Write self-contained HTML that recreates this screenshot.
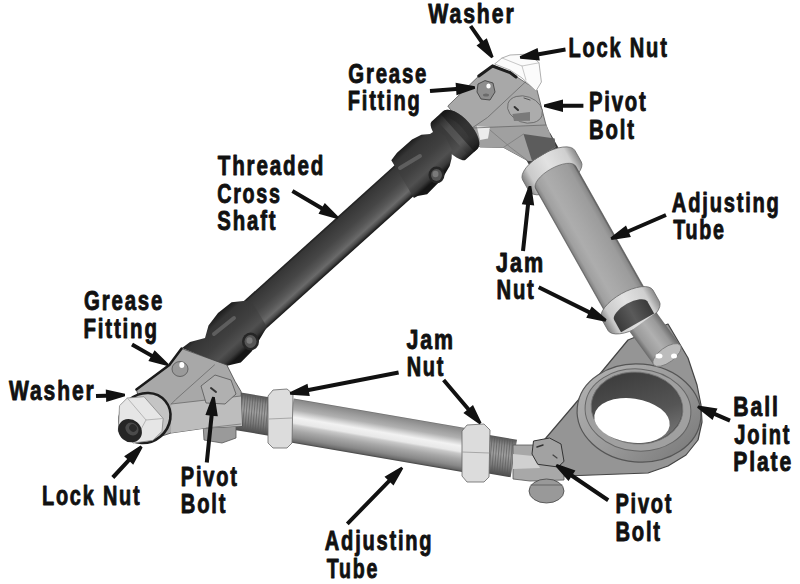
<!DOCTYPE html>
<html><head><meta charset="utf-8"><style>
html,body{margin:0;padding:0;background:#fff;}
svg{display:block;}
text{font-family:"Liberation Sans",sans-serif;font-weight:bold;font-size:27.0px;fill:#111;stroke:#111;stroke-width:0.9px;stroke-linejoin:round;}
.ar{fill:#111;}
</style></head><body>
<svg width="800" height="584" viewBox="0 0 800 584">
<defs><linearGradient id="g1" gradientUnits="userSpaceOnUse" x1="590.0" y1="370.0" x2="690.0" y2="460.0"><stop offset="0" stop-color="#b0b0b0"/><stop offset="0.5" stop-color="#9a9a9a"/><stop offset="1" stop-color="#7a7a7a"/></linearGradient><linearGradient id="g2" gradientUnits="userSpaceOnUse" x1="620.0" y1="375.0" x2="650.0" y2="445.0"><stop offset="0" stop-color="#3e3e3e"/><stop offset="0.6" stop-color="#555"/><stop offset="1" stop-color="#777"/></linearGradient><linearGradient id="g3" gradientUnits="userSpaceOnUse" x1="550.3" y1="133.3" x2="520.7" y2="150.0"><stop offset="0" stop-color="#333"/><stop offset="0.5" stop-color="#5e5e5e"/><stop offset="1" stop-color="#3a3a3a"/></linearGradient><linearGradient id="g4" gradientUnits="userSpaceOnUse" x1="574.9" y1="150.5" x2="522.6" y2="179.9"><stop offset="0" stop-color="#8a8a8a"/><stop offset="0.15" stop-color="#cfcfcf"/><stop offset="0.5" stop-color="#e2e2e2"/><stop offset="0.85" stop-color="#cacaca"/><stop offset="1" stop-color="#808080"/></linearGradient><linearGradient id="g5" gradientUnits="userSpaceOnUse" x1="575.7" y1="166.1" x2="535.6" y2="188.7"><stop offset="0" stop-color="#555"/><stop offset="0.05" stop-color="#8a8a8a"/><stop offset="0.15" stop-color="#9c9c9c"/><stop offset="0.5" stop-color="#a8a8a8"/><stop offset="0.7" stop-color="#adadad"/><stop offset="0.9" stop-color="#a0a0a0"/><stop offset="0.97" stop-color="#888"/><stop offset="1" stop-color="#666"/></linearGradient><linearGradient id="g6" gradientUnits="userSpaceOnUse" x1="653.0" y1="290.1" x2="601.6" y2="319.1"><stop offset="0" stop-color="#8a8a8a"/><stop offset="0.15" stop-color="#cfcfcf"/><stop offset="0.5" stop-color="#e2e2e2"/><stop offset="0.85" stop-color="#cacaca"/><stop offset="1" stop-color="#808080"/></linearGradient><linearGradient id="g7" gradientUnits="userSpaceOnUse" x1="647.3" y1="301.4" x2="614.2" y2="320.0"><stop offset="0" stop-color="#3a3a3a"/><stop offset="0.5" stop-color="#5a5a5a"/><stop offset="1" stop-color="#3a3a3a"/></linearGradient><linearGradient id="g8" gradientUnits="userSpaceOnUse" x1="656.3" y1="312.3" x2="629.7" y2="331.7"><stop offset="0" stop-color="#6a6a6a"/><stop offset="0.2" stop-color="#9a9a9a"/><stop offset="0.5" stop-color="#b0b0b0"/><stop offset="0.85" stop-color="#9a9a9a"/><stop offset="1" stop-color="#6a6a6a"/></linearGradient><linearGradient id="g9" gradientUnits="userSpaceOnUse" x1="241.0" y1="392.5" x2="234.6" y2="429.9"><stop offset="0" stop-color="#555"/><stop offset="0.2" stop-color="#8a8a8a"/><stop offset="0.45" stop-color="#a0a0a0"/><stop offset="0.75" stop-color="#7a7a7a"/><stop offset="1" stop-color="#4a4a4a"/></linearGradient><linearGradient id="g10" gradientUnits="userSpaceOnUse" x1="477.5" y1="433.0" x2="471.1" y2="470.5"><stop offset="0" stop-color="#555"/><stop offset="0.2" stop-color="#8a8a8a"/><stop offset="0.45" stop-color="#a0a0a0"/><stop offset="0.75" stop-color="#7a7a7a"/><stop offset="1" stop-color="#4a4a4a"/></linearGradient><linearGradient id="g11" gradientUnits="userSpaceOnUse" x1="293.7" y1="398.5" x2="286.3" y2="441.8"><stop offset="0" stop-color="#6a6a6a"/><stop offset="0.03" stop-color="#8a8a8a"/><stop offset="0.12" stop-color="#9a9a9a"/><stop offset="0.25" stop-color="#b0b0b0"/><stop offset="0.33" stop-color="#d0d0d0"/><stop offset="0.42" stop-color="#f2f2f2"/><stop offset="0.55" stop-color="#e8e8e8"/><stop offset="0.6" stop-color="#c8c8c8"/><stop offset="0.72" stop-color="#a8a8a8"/><stop offset="0.88" stop-color="#888"/><stop offset="0.96" stop-color="#6a6a6a"/><stop offset="1" stop-color="#444"/></linearGradient><linearGradient id="g12" gradientUnits="userSpaceOnUse" x1="233.7" y1="310.2" x2="257.5" y2="336.6"><stop offset="0" stop-color="#1a1a1a"/><stop offset="0.07" stop-color="#363636"/><stop offset="0.45" stop-color="#464646"/><stop offset="0.65" stop-color="#575757"/><stop offset="0.8" stop-color="#6a6a6a"/><stop offset="0.9" stop-color="#4a4a4a"/><stop offset="1" stop-color="#151515"/></linearGradient><linearGradient id="g13" gradientUnits="userSpaceOnUse" x1="187.3" y1="340.9" x2="218.1" y2="375.1"><stop offset="0" stop-color="#1a1a1a"/><stop offset="0.15" stop-color="#353535"/><stop offset="0.5" stop-color="#404040"/><stop offset="0.75" stop-color="#505050"/><stop offset="0.9" stop-color="#3a3a3a"/><stop offset="1" stop-color="#151515"/></linearGradient><linearGradient id="g14" gradientUnits="userSpaceOnUse" x1="431.4" y1="121.8" x2="465.5" y2="159.7"><stop offset="0" stop-color="#1a1a1a"/><stop offset="0.15" stop-color="#353535"/><stop offset="0.5" stop-color="#404040"/><stop offset="0.75" stop-color="#505050"/><stop offset="0.9" stop-color="#3a3a3a"/><stop offset="1" stop-color="#151515"/></linearGradient><linearGradient id="g15" gradientUnits="userSpaceOnUse" x1="187.3" y1="340.9" x2="218.1" y2="375.1"><stop offset="0" stop-color="#1a1a1a"/><stop offset="0.15" stop-color="#353535"/><stop offset="0.5" stop-color="#404040"/><stop offset="0.75" stop-color="#505050"/><stop offset="0.9" stop-color="#3a3a3a"/><stop offset="1" stop-color="#151515"/></linearGradient><linearGradient id="g16" gradientUnits="userSpaceOnUse" x1="436.1" y1="119.5" x2="468.2" y2="155.2"><stop offset="0" stop-color="#222"/><stop offset="0.3" stop-color="#555"/><stop offset="0.7" stop-color="#606060"/><stop offset="1" stop-color="#222"/></linearGradient><linearGradient id="g17" gradientUnits="userSpaceOnUse" x1="440.3" y1="113.7" x2="474.4" y2="151.6"><stop offset="0" stop-color="#111"/><stop offset="0.5" stop-color="#2a2a2a"/><stop offset="1" stop-color="#111"/></linearGradient></defs>
<rect width="800" height="584" fill="#fff"/>
<polygon points="628.0,340.0 668.0,324.0 688.0,358.0 697.0,385.0 701.0,405.0 702.0,422.0 698.0,440.0 686.0,455.0 668.0,466.0 648.0,473.0 565.0,476.0 545.0,470.0 534.0,452.0 580.0,398.0" fill="#959595" stroke="#444" stroke-width="1.2" stroke-linejoin="round" />
<ellipse cx="639" cy="413" rx="62" ry="49" transform="rotate(5 639 413)" fill="url(#g1)" stroke="#555" stroke-width="1.2"/>
<ellipse cx="638" cy="410" rx="53" ry="41" transform="rotate(5 638 410)" fill="#a0a0a0" stroke="#666" stroke-width="1"/>
<ellipse cx="637" cy="408" rx="46" ry="36" transform="rotate(5 637 408)" fill="#4c4c4c" stroke="#777" stroke-width="0.8"/>
<ellipse cx="637" cy="408" rx="45" ry="35" transform="rotate(5 637 408)" fill="url(#g2)" stroke="none" stroke-width="0.8"/>
<ellipse cx="632" cy="420.5" rx="38" ry="22" transform="rotate(8 632 420.5)" fill="#fff" stroke="none" stroke-width="0.8"/>
<path d="M550.33,133.31 L566.03,161.20 L536.41,177.88 L520.71,150.00 Z" fill="url(#g3)" />
<path d="M574.91,150.46 L581.29,161.79 A12.60,30.00 60.61 0 1 529.01,191.23 L522.63,179.90 A12.60,30.00 60.61 0 1 574.91,150.46 Z" fill="url(#g4)" stroke="#666" stroke-width="0.8"/>
<path d="M575.68,166.09 L647.82,294.18 A9.66,23.00 60.61 0 1 607.74,316.75 L535.60,188.67 A9.66,23.00 60.61 0 1 575.68,166.09 Z" fill="url(#g5)" stroke="#555" stroke-width="0.6"/>
<path d="M652.99,290.11 L659.37,301.44 A12.39,29.50 60.61 0 1 607.96,330.39 L601.58,319.07 A12.39,29.50 60.61 0 1 652.99,290.11 Z" fill="url(#g6)" stroke="#666" stroke-width="0.8"/>
<path d="M647.28,301.37 L654.15,313.56 L621.04,332.21 L614.17,320.01 A7.98,19.00 60.61 0 1 647.28,301.37 Z" fill="url(#g7)" />
<path d="M656.34,312.30 L680.34,345.30 A7.42,16.50 53.97 0 1 653.66,364.70 L629.66,331.70 Z" fill="url(#g8)" />
<ellipse cx="667" cy="355" rx="16.5" ry="7.5" transform="rotate(-36 667 355)" fill="#bcbcbc" stroke="#777" stroke-width="0.8"/>
<ellipse cx="659" cy="356" rx="3.5" ry="2.5" transform="rotate(0 659 356)" fill="#fff" stroke="none" stroke-width="0.8"/>
<ellipse cx="674" cy="356" rx="3" ry="2.5" transform="rotate(0 674 356)" fill="#fff" stroke="none" stroke-width="0.8"/>
<polygon points="241.0,392.5 285.4,400.1 278.9,437.5 234.6,429.9" fill="url(#g9)" />
<path d="M242.7,394.3L239.8,429.3M245.3,394.8L242.3,429.7M247.8,395.2L244.9,430.2M250.4,395.6L247.5,430.6M253.0,396.1L250.0,431.0M255.5,396.5L252.6,431.5M258.1,397.0L255.1,431.9M260.7,397.4L257.7,432.4M263.2,397.8L260.3,432.8M265.8,398.3L262.8,433.2M268.3,398.7L265.4,433.7M270.9,399.1L268.0,434.1M273.5,399.6L270.5,434.6M276.0,400.0L273.1,435.0M278.6,400.5L275.6,435.4M281.2,400.9L278.2,435.9" stroke="#5a5a5a" stroke-width="0.9" opacity="0.7" fill="none"/>
<polygon points="477.5,433.0 517.0,439.8 510.6,477.3 471.1,470.5" fill="url(#g10)" />
<path d="M479.3,434.9L476.3,469.8M481.8,435.3L478.9,470.3M484.4,435.8L481.4,470.7M487.0,436.2L484.0,471.2M489.5,436.6L486.6,471.6M492.1,437.1L489.1,472.0M494.6,437.5L491.7,472.5M497.2,438.0L494.3,472.9M499.8,438.4L496.8,473.4M502.3,438.8L499.4,473.8M504.9,439.3L501.9,474.2M507.5,439.7L504.5,474.7M510.0,440.1L507.1,475.1M512.6,440.6L509.6,475.6" stroke="#5a5a5a" stroke-width="0.9" opacity="0.7" fill="none"/>
<polygon points="293.7,398.5 471.2,428.9 463.7,472.3 286.3,441.8" fill="url(#g11)" />
<polygon points="268.0,396.0 273.0,390.0 287.0,389.0 293.0,394.0 292.0,443.0 287.0,448.0 273.0,448.0 268.0,443.0" fill="#dcdcdc" stroke="#666" stroke-width="0.8" stroke-linejoin="round" />
<polyline points="269.0,419.0 292.0,418.0" fill="none" stroke="#999" stroke-width="0.8" stroke-linejoin="round" stroke-linecap="round"/>
<polygon points="462.0,431.0 467.0,425.0 484.0,424.0 490.0,430.0 489.0,477.0 484.0,482.0 467.0,482.0 462.0,476.0" fill="#dcdcdc" stroke="#666" stroke-width="0.8" stroke-linejoin="round" />
<polyline points="462.0,452.0 489.0,453.0" fill="none" stroke="#999" stroke-width="0.8" stroke-linejoin="round" stroke-linecap="round"/>
<polygon points="513.0,445.0 533.0,445.0 552.0,455.0 564.0,470.0 564.0,480.0 530.0,481.0 513.0,479.0" fill="#a8a8a8" stroke="#555" stroke-width="0.8" stroke-linejoin="round" />
<polygon points="513.0,454.0 533.0,456.0 540.0,468.0 513.0,469.0" fill="#d0d0d0" stroke="none" stroke-width="0.8" stroke-linejoin="round" />
<ellipse cx="546.5" cy="491" rx="17.5" ry="12" transform="rotate(0 546.5 491)" fill="#999" stroke="#444" stroke-width="0.8"/>
<polyline points="531.0,485.0 562.0,485.0" fill="none" stroke="#666" stroke-width="1.2" stroke-linejoin="round" stroke-linecap="round"/>
<polygon points="533.5,441.0 549.5,438.0 561.0,444.0 564.0,461.4 558.0,467.0 537.8,464.3 532.0,454.0" fill="#a2a2a2" stroke="#333" stroke-width="1" stroke-linejoin="round" />
<polyline points="537.0,447.0 543.0,445.0" fill="none" stroke="#333" stroke-width="1.5" stroke-linejoin="round" stroke-linecap="round"/>
<polyline points="553.0,455.0 557.0,458.0" fill="none" stroke="#444" stroke-width="1.2" stroke-linejoin="round" stroke-linecap="round"/>
<polygon points="478.8,76.0 492.5,65.0 510.0,72.5 537.0,90.0 546.0,125.0 555.5,147.0 532.0,161.0 528.0,160.8 503.5,147.4 480.0,147.0 470.0,136.0 447.8,106.0" fill="#a8a8a8" stroke="#555" stroke-width="0.8" stroke-linejoin="round" />
<polygon points="470.0,128.0 546.0,125.0 555.5,147.0 532.0,161.0 528.0,160.8 503.5,147.4 480.0,147.0" fill="#a0a0a0" stroke="none" stroke-width="0.8" stroke-linejoin="round" />
<polygon points="476.8,126.3 490.0,127.0 488.0,138.5 480.0,140.0" fill="#ececec" stroke="none" stroke-width="0.8" stroke-linejoin="round" />
<polygon points="523.5,134.0 554.7,138.5 555.5,147.0 532.0,161.0" fill="#5c5c5c" stroke="none" stroke-width="0.8" stroke-linejoin="round" />
<polyline points="527.5,80.0 487.5,117.5 472.0,128.0" fill="none" stroke="#6a6a6a" stroke-width="0.8" stroke-linejoin="round" stroke-linecap="round"/>
<polyline points="472.0,128.0 546.0,125.0" fill="none" stroke="#6a6a6a" stroke-width="0.8" stroke-linejoin="round" stroke-linecap="round"/>
<polyline points="490.0,130.0 510.0,147.0 528.0,160.8" fill="none" stroke="#777" stroke-width="0.7" stroke-linejoin="round" stroke-linecap="round"/>
<polyline points="503.5,147.4 523.5,134.0" fill="none" stroke="#777" stroke-width="0.7" stroke-linejoin="round" stroke-linecap="round"/>
<polyline points="478.8,76.0 492.5,66.0 510.0,72.5 516.0,77.0" fill="none" stroke="#1e1e1e" stroke-width="3" stroke-linejoin="round" stroke-linecap="round"/>
<polygon points="494.6,64.0 502.0,58.0 510.0,55.0 530.0,54.0 539.0,62.8 541.4,82.0 536.0,91.0 522.0,78.0 510.0,70.0" fill="#fbfbfb" stroke="#9a9a9a" stroke-width="0.8" stroke-linejoin="round" />
<polyline points="502.0,58.0 522.0,66.0 539.0,62.8" fill="none" stroke="#b0b0b0" stroke-width="0.7" stroke-linejoin="round" stroke-linecap="round"/>
<polyline points="522.0,66.0 526.0,80.0" fill="none" stroke="#b0b0b0" stroke-width="0.7" stroke-linejoin="round" stroke-linecap="round"/>
<polygon points="478.0,84.0 485.0,80.6 493.0,83.0 495.0,92.0 490.0,100.0 481.0,99.0 477.0,92.0" fill="#8e8e8e" stroke="#444" stroke-width="0.9" stroke-linejoin="round" />
<ellipse cx="488.5" cy="86" rx="2.2" ry="2.6" transform="rotate(0 488.5 86)" fill="#fff" stroke="none" stroke-width="0.8"/>
<ellipse cx="486" cy="95" rx="3" ry="1.5" transform="rotate(0 486 95)" fill="#6a6a6a" stroke="none" stroke-width="0.8"/>
<ellipse cx="525" cy="109.5" rx="18" ry="13" transform="rotate(20 525 109.5)" fill="#acacac" stroke="#666" stroke-width="0.8"/>
<polygon points="512.4,114.0 530.0,112.0 530.0,120.7 514.0,121.0" fill="#7a7a7a" stroke="none" stroke-width="0.8" stroke-linejoin="round" />
<polyline points="514.6,107.0 518.0,110.0" fill="none" stroke="#333" stroke-width="2" stroke-linejoin="round" stroke-linecap="round"/>
<polyline points="524.0,98.0 530.0,100.0" fill="none" stroke="#555" stroke-width="1" stroke-linejoin="round" stroke-linecap="round"/>
<polygon points="233.7,310.2 404.6,156.3 428.4,182.7 257.5,336.6" fill="url(#g12)" />
<polygon points="182.0,348.0 190.0,342.0 205.0,338.0 208.5,325.4 218.0,313.0 231.6,302.3 245.5,300.8 252.0,302.0 267.0,327.0 258.0,342.0 251.6,351.6 240.8,362.4 226.0,366.0" fill="url(#g13)" stroke="none" stroke-width="0.8" stroke-linejoin="round" />
<polyline points="214.0,334.0 234.0,318.0" fill="none" stroke="#5e5e5e" stroke-width="4" stroke-linejoin="round" stroke-linecap="round"/>
<ellipse cx="250.5" cy="341.5" rx="8.5" ry="9" transform="rotate(0 250.5 341.5)" fill="#262626" stroke="none" stroke-width="0.8"/>
<ellipse cx="250.5" cy="341.5" rx="6" ry="6.5" transform="rotate(0 250.5 341.5)" fill="#555" stroke="none" stroke-width="0.8"/>
<ellipse cx="249.5" cy="340.5" rx="3" ry="3.2" transform="rotate(0 249.5 340.5)" fill="#7a7a7a" stroke="none" stroke-width="0.8"/>
<path d="M431.39,121.78 L443.28,111.07 A11.47,25.50 -42.00 0 1 477.40,148.97 L465.51,159.68 A7.65,25.50 -42.00 0 1 431.39,121.78 Z" fill="url(#g14)" />
<polygon points="391.3,160.3 397.0,152.7 412.0,139.5 421.4,134.8 430.0,133.9 436.0,130.0 445.0,136.0 452.0,150.0 451.6,158.4 449.7,165.9 442.1,179.1 427.1,194.2 417.7,196.0 413.9,197.9" fill="url(#g15)" stroke="none" stroke-width="0.8" stroke-linejoin="round" />
<polyline points="400.0,168.0 420.0,156.0" fill="none" stroke="#5e5e5e" stroke-width="4" stroke-linejoin="round" stroke-linecap="round"/>
<path d="M436.11,119.54 L438.34,117.54 A10.80,24.00 -42.00 0 1 470.46,153.21 L468.23,155.22 Z" fill="url(#g16)" opacity="0.7"/>
<path d="M440.31,113.75 L443.28,111.07 A11.47,25.50 -42.00 0 1 477.40,148.97 L474.43,151.65 Z" fill="url(#g17)" opacity="0.6"/>
<ellipse cx="436.5" cy="175" rx="8" ry="8.5" transform="rotate(0 436.5 175)" fill="#262626" stroke="none" stroke-width="0.8"/>
<ellipse cx="436.5" cy="175" rx="5.5" ry="6" transform="rotate(0 436.5 175)" fill="#555" stroke="none" stroke-width="0.8"/>
<ellipse cx="435.5" cy="174" rx="3" ry="3.2" transform="rotate(0 435.5 174)" fill="#7a7a7a" stroke="none" stroke-width="0.8"/>
<polygon points="203.0,424.0 222.0,420.0 236.0,426.0 236.0,438.0 222.0,443.0 204.0,440.0" fill="#9a9a9a" stroke="#555" stroke-width="0.8" stroke-linejoin="round" />
<polygon points="136.4,389.5 169.3,364.9 181.6,348.5 226.8,364.9 235.0,381.3 241.1,391.6 242.0,426.0 206.0,428.0 171.0,433.0 150.0,440.0" fill="#a8a8a8" stroke="#444" stroke-width="0.8" stroke-linejoin="round" />
<polygon points="171.3,404.0 241.0,396.0 242.0,426.0 206.0,428.0 171.0,433.0" fill="#bdbdbd" stroke="none" stroke-width="0.8" stroke-linejoin="round" />
<polyline points="136.4,389.5 169.3,364.9 181.6,348.5" fill="none" stroke="#1a1a1a" stroke-width="2.5" stroke-linejoin="round" stroke-linecap="round"/>
<polyline points="214.5,364.9 175.4,399.8 171.3,404.0" fill="none" stroke="#6a6a6a" stroke-width="0.8" stroke-linejoin="round" stroke-linecap="round"/>
<polyline points="171.3,404.0 241.0,396.0" fill="none" stroke="#6a6a6a" stroke-width="0.8" stroke-linejoin="round" stroke-linecap="round"/>
<polyline points="206.0,428.0 241.0,424.0" fill="none" stroke="#777" stroke-width="0.8" stroke-linejoin="round" stroke-linecap="round"/>
<polygon points="201.0,386.0 215.0,375.0 231.0,380.0 236.0,394.0 225.0,404.0 206.0,403.0" fill="#b0b0b0" stroke="#555" stroke-width="0.8" stroke-linejoin="round" />
<polyline points="211.0,388.0 216.0,392.0" fill="none" stroke="#333" stroke-width="2" stroke-linejoin="round" stroke-linecap="round"/>
<ellipse cx="180" cy="369" rx="8" ry="7.5" transform="rotate(0 180 369)" fill="#9a9a9a" stroke="#555" stroke-width="0.8"/>
<ellipse cx="181.8" cy="365" rx="2.5" ry="3" transform="rotate(0 181.8 365)" fill="#fff" stroke="none" stroke-width="0.8"/>
<ellipse cx="145" cy="418" rx="26.5" ry="24" transform="rotate(-40 145 418)" fill="#c4c4c4" stroke="#1e1e1e" stroke-width="2.6"/>
<polygon points="119.5,405.7 127.3,398.0 144.0,396.7 163.2,418.5 162.0,431.3 153.0,440.3 133.7,443.0 118.3,431.3" fill="#e6e6e6" stroke="#888" stroke-width="0.8" stroke-linejoin="round" />
<polyline points="127.3,398.0 146.0,420.0 163.2,418.5" fill="none" stroke="#aaa" stroke-width="0.8" stroke-linejoin="round" stroke-linecap="round"/>
<polyline points="146.0,420.0 133.7,443.0" fill="none" stroke="#aaa" stroke-width="0.8" stroke-linejoin="round" stroke-linecap="round"/>
<ellipse cx="130" cy="430.7" rx="12.5" ry="11" transform="rotate(40 130 430.7)" fill="#252525" stroke="none" stroke-width="0.8"/>
<ellipse cx="132" cy="429" rx="7" ry="6" transform="rotate(40 132 429)" fill="#4a4a4a" stroke="none" stroke-width="0.8"/>
<ellipse cx="133" cy="428" rx="4" ry="3.5" transform="rotate(40 133 428)" fill="#2a2a2a" stroke="none" stroke-width="0.8"/>
<polygon class="ar" points="469.0,27.1 480.0,43.0 476.5,45.5 491.4,58.2 493.6,56.8 486.8,38.3 483.3,40.8 472.2,24.9"/>
<polygon class="ar" points="565.2,47.5 538.4,52.2 537.6,48.1 519.8,56.2 520.2,58.8 539.8,60.4 539.1,56.2 565.8,51.5"/>
<polygon class="ar" points="430.2,93.0 456.2,91.0 456.5,95.2 475.1,88.8 474.9,86.2 455.6,82.7 455.9,87.0 429.8,89.0"/>
<polygon class="ar" points="583.4,103.7 563.0,103.7 563.0,99.5 544.0,104.4 544.0,107.0 563.0,112.0 563.0,107.7 583.4,107.7"/>
<polygon class="ar" points="291.4,192.7 320.6,210.0 318.5,213.7 337.3,219.1 338.7,216.9 324.8,202.9 322.7,206.6 293.4,189.3"/>
<polygon class="ar" points="665.2,213.2 627.7,229.4 626.0,225.5 610.5,237.6 611.5,239.9 630.9,237.0 629.2,233.1 666.8,216.8"/>
<polygon class="ar" points="525.0,251.2 530.0,205.1 534.2,205.6 531.3,186.1 528.7,185.9 521.8,204.2 526.0,204.7 521.0,250.8"/>
<polygon class="ar" points="537.8,289.1 588.1,313.9 586.2,317.7 605.4,321.7 606.6,319.3 591.7,306.5 589.8,310.3 539.6,285.5"/>
<polygon class="ar" points="131.0,346.2 150.5,357.3 148.4,361.0 167.4,366.1 168.6,363.9 154.6,350.2 152.5,353.9 133.0,342.8"/>
<polygon class="ar" points="96.1,398.0 106.1,397.7 106.2,401.9 125.0,396.3 125.0,393.7 105.8,389.4 105.9,393.7 95.9,394.0"/>
<polygon class="ar" points="114.3,478.9 130.1,461.8 133.2,464.7 142.6,447.4 140.6,445.6 124.1,456.2 127.2,459.1 111.3,476.1"/>
<polygon class="ar" points="208.8,462.7 213.6,415.9 217.8,416.3 214.8,396.9 212.2,396.7 205.4,415.1 209.6,415.5 204.8,462.3"/>
<polygon class="ar" points="398.2,370.5 308.3,387.9 307.5,383.8 289.8,392.2 290.2,394.8 309.8,396.0 309.0,391.9 399.0,374.5"/>
<polygon class="ar" points="442.1,381.3 466.7,410.3 463.4,413.1 479.5,424.3 481.5,422.7 473.0,405.0 469.7,407.7 445.1,378.7"/>
<polygon class="ar" points="348.7,525.2 390.4,482.6 393.5,485.6 403.2,468.5 401.4,466.7 384.5,476.8 387.6,479.8 345.9,522.4"/>
<polygon class="ar" points="730.8,418.8 715.8,412.3 717.5,408.4 698.1,405.4 697.1,407.8 712.6,419.9 714.2,416.0 729.2,422.4"/>
<polygon class="ar" points="609.3,498.5 573.1,474.1 575.4,470.5 556.9,464.0 555.5,466.2 568.5,480.9 570.8,477.4 607.1,501.9"/>
<text transform="translate(428.36,23.14) scale(0.7864,1)" letter-spacing="2.4">Washer</text>
<text transform="translate(568.56,57.14) scale(0.7433,1)" letter-spacing="2.4">Lock Nut</text>
<text transform="translate(348.30,83.39) scale(0.7540,1)" letter-spacing="2.4">Grease</text>
<text transform="translate(347.81,110.14) scale(0.7420,1)" letter-spacing="2.4">Fitting</text>
<text transform="translate(589.04,111.14) scale(0.7512,1)" letter-spacing="2.4">Pivot</text>
<text transform="translate(589.04,138.64) scale(0.7520,1)" letter-spacing="2.4">Bolt</text>
<text transform="translate(217.75,175.24) scale(0.7637,1)" letter-spacing="2.4">Threaded</text>
<text transform="translate(217.17,202.64) scale(0.7297,1)" letter-spacing="2.4">Cross</text>
<text transform="translate(217.35,229.64) scale(0.7548,1)" letter-spacing="2.4">Shaft</text>
<text transform="translate(671.86,211.64) scale(0.7454,1)" letter-spacing="2.4">Adjusting</text>
<text transform="translate(673.16,239.14) scale(0.7305,1)" letter-spacing="2.4">Tube</text>
<text transform="translate(496.04,272.04) scale(0.7994,1)" letter-spacing="2.4">Jam</text>
<text transform="translate(496.54,298.64) scale(0.7496,1)" letter-spacing="2.4">Nut</text>
<text transform="translate(84.04,310.14) scale(0.7564,1)" letter-spacing="2.4">Grease</text>
<text transform="translate(83.53,337.64) scale(0.7580,1)" letter-spacing="2.4">Fitting</text>
<text transform="translate(9.11,399.64) scale(0.7795,1)" letter-spacing="2.4">Washer</text>
<text transform="translate(41.96,505.34) scale(0.7387,1)" letter-spacing="2.4">Lock Nut</text>
<text transform="translate(180.86,486.34) scale(0.7417,1)" letter-spacing="2.4">Pivot</text>
<text transform="translate(180.85,513.04) scale(0.7468,1)" letter-spacing="2.4">Bolt</text>
<text transform="translate(406.44,349.04) scale(0.7924,1)" letter-spacing="2.4">Jam</text>
<text transform="translate(406.66,376.04) scale(0.7392,1)" letter-spacing="2.4">Nut</text>
<text transform="translate(324.86,550.14) scale(0.7433,1)" letter-spacing="2.4">Adjusting</text>
<text transform="translate(326.76,577.64) scale(0.7254,1)" letter-spacing="2.4">Tube</text>
<text transform="translate(733.28,416.04) scale(0.7850,1)" letter-spacing="2.4">Ball</text>
<text transform="translate(734.36,443.94) scale(0.7444,1)" letter-spacing="2.4">Joint</text>
<text transform="translate(733.29,470.64) scale(0.7823,1)" letter-spacing="2.4">Plate</text>
<text transform="translate(615.46,512.84) scale(0.7417,1)" letter-spacing="2.4">Pivot</text>
<text transform="translate(615.45,540.54) scale(0.7485,1)" letter-spacing="2.4">Bolt</text>
</svg></body></html>
